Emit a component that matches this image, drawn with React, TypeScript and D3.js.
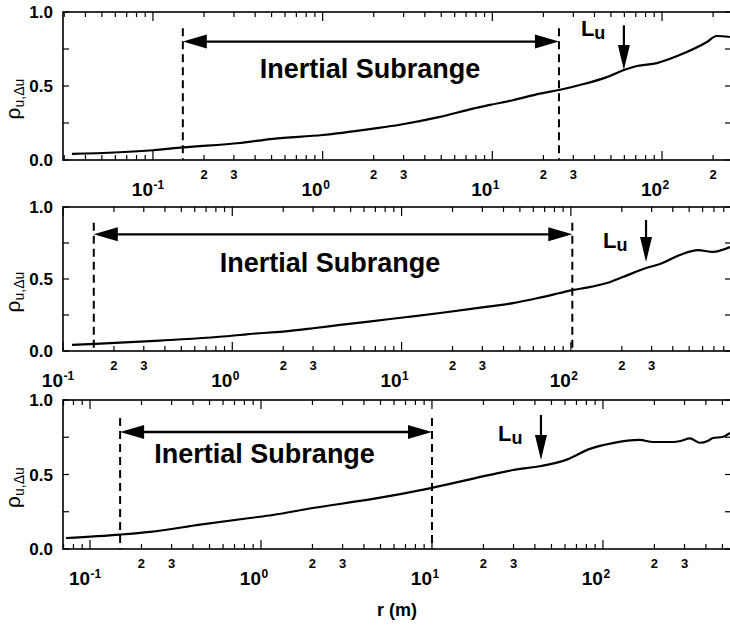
import React from 'react';
import * as d3 from 'd3';

// Correlation coefficient rho(u, Δu) versus separation r (m), three records.
const panel1R = [0.0333, 0.1, 0.15, 0.326, 0.509, 1.0, 1.98, 2.85, 4.91, 7.69, 9.7, 13.2, 19.1, 24.7, 32.8, 47.3, 59.6, 71.1, 93.3, 127, 184, 210, 251];
const panel1Rho = [0.041, 0.066, 0.085, 0.115, 0.143, 0.169, 0.212, 0.238, 0.291, 0.347, 0.372, 0.404, 0.448, 0.473, 0.507, 0.56, 0.608, 0.635, 0.655, 0.709, 0.797, 0.838, 0.831];

const panel2R = [0.113, 0.155, 0.374, 1.11, 1.27, 1.99, 3.0, 4.33, 6.78, 10.8, 16.9, 26.4, 33.3, 45.5, 64, 86.3, 103, 124, 163, 203, 278, 336, 441, 563, 691, 871];
const panel2Rho = [0.042, 0.049, 0.072, 0.111, 0.118, 0.135, 0.158, 0.181, 0.208, 0.236, 0.264, 0.294, 0.31, 0.333, 0.368, 0.403, 0.424, 0.44, 0.472, 0.514, 0.576, 0.604, 0.667, 0.701, 0.688, 0.722];

const panel3R = [0.0724, 0.15, 0.224, 0.44, 0.863, 1.17, 2.01, 4.52, 9.86, 21.8, 29.8, 43.4, 61.5, 83.9, 114, 164, 196, 256, 285, 323, 369, 410, 440, 500, 553];
const panel3Rho = [0.074, 0.097, 0.115, 0.163, 0.208, 0.228, 0.275, 0.336, 0.409, 0.497, 0.53, 0.557, 0.6, 0.672, 0.711, 0.732, 0.718, 0.718, 0.725, 0.742, 0.713, 0.725, 0.745, 0.752, 0.779];

// Axis extents (r in metres) for each record.
const rMinimum = [0.0295, 0.1, 0.0695];
const rMaximum = [255, 883, 561];

// Inertial subrange bounds and integral length scale L_u (m).
const subrangeStart = [0.15, 0.152, 0.15];
const subrangeEnd = [24.7, 102, 10];
const lengthScaleLu = [59.6, 278, 43.4];

const yTickValues = [0, 0.25, 0.5, 0.75, 1];
const yLabelValues = [0, 0.5, 1];
const yLabelText = ['0.0', '0.5', '1.0'];
const minorLabelMultipliers = [2, 3];
const subrangeLabel = 'Inertial Subrange';
const xAxisTitle = 'r (m)';

const series = [
  { r: panel1R, rho: panel1Rho },
  { r: panel2R, rho: panel2Rho },
  { r: panel3R, rho: panel3Rho },
];

// Layout of the three stacked frames.
const W = 730;
const H = 625;
const LEFT = 63;
const RIGHT = 731;
const frameTop = [12, 207, 400];
const frameBottom = [160, 351, 549];

// Annotation anchors in data units.
const arrowLevel = [0.8, 0.81, 0.785];
const dashTop = [0.89, 0.89, 0.88];
const labelLevel = [0.554, 0.549, 0.577];
const labelCenterR = [1.9, 3.78, 1.05];
const luArrowTop = [0.91, 0.91, 0.9];
const luArrowTip = [0.608, 0.618, 0.597];
const luLabelLevel = [0.84, 0.715, 0.725];

const FONT = '"Liberation Sans", Arial, Helvetica, sans-serif';

function Panel({ i }: { i: number }) {
  const top = frameTop[i];
  const bottom = frameBottom[i];
  const x = d3.scaleLog().domain([rMinimum[i], rMaximum[i]]).range([LEFT, RIGHT]);
  const y = d3.scaleLinear().domain([0, 1]).range([bottom, top]);
  const data = series[i].r.map((r, k) => [r, series[i].rho[k]] as [number, number]);
  const line = d3
    .line<[number, number]>()
    .x((d) => x(d[0]))
    .y((d) => y(d[1]))
    .curve(d3.curveMonotoneX);

  const [lo, hi] = x.domain();
  const e0 = Math.floor(Math.log10(lo));
  const e1 = Math.ceil(Math.log10(hi));
  const ticks: { v: number; major: boolean }[] = [];
  const decades: number[] = [];
  const minorLabels: { v: number; k: number }[] = [];
  for (let e = e0; e <= e1; e++) {
    for (let k = 1; k <= 9; k++) {
      const v = k * Math.pow(10, e);
      if (v < lo * 0.999 || v > hi) continue;
      ticks.push({ v, major: k === 1 });
      if (k === 1) decades.push(e);
      // 2 and 3 are labelled only after a labelled decade
      if (minorLabelMultipliers.includes(k) && v / k >= lo * 0.999 && x(v) < W - 4) minorLabels.push({ v, k });
    }
  }

  const xs = x(subrangeStart[i]);
  const xe = x(subrangeEnd[i]);
  const ya = y(arrowLevel[i]);
  const head = 24;
  const hh = 7;
  const xl = x(lengthScaleLu[i]);
  const yTip = y(luArrowTip[i]);
  const clipId = `clip-${i}`;

  return (
    <g>
      <defs>
        <clipPath id={clipId}>
          <rect x={LEFT} y={top} width={RIGHT - LEFT} height={bottom - top} />
        </clipPath>
      </defs>
      {/* frame */}
      <rect x={LEFT} y={top} width={RIGHT - LEFT} height={bottom - top} fill="none" stroke="#000" strokeWidth={1.6} />
      {/* x ticks on bottom and top */}
      {ticks.map((t, k) => {
        const tx = x(t.v);
        const len = t.major ? 9 : 5;
        return (
          <g key={k}>
            <line x1={tx} x2={tx} y1={bottom} y2={bottom - len} stroke="#000" strokeWidth={1.2} />
            <line x1={tx} x2={tx} y1={top} y2={top + len} stroke="#000" strokeWidth={1.2} />
          </g>
        );
      })}
      {/* y ticks on left and right */}
      {yTickValues.map((v, k) => (
        <g key={k}>
          <line x1={LEFT} x2={LEFT + 6} y1={y(v)} y2={y(v)} stroke="#000" strokeWidth={1.2} />
          <line x1={RIGHT} x2={RIGHT - 6} y1={y(v)} y2={y(v)} stroke="#000" strokeWidth={1.2} />
        </g>
      ))}
      {/* y tick labels */}
      {yLabelValues.map((v, k) => (
        <text key={k} x={53} y={y(v)} dy="0.36em" textAnchor="end" fontFamily={FONT} fontWeight="bold" fontSize={17}>
          {yLabelText[k]}
        </text>
      ))}
      {/* y axis title */}
      <text
        transform={`translate(20, ${(top + bottom) / 2 + 13}) rotate(-90)`}
        textAnchor="middle"
        fontFamily={FONT}
        fontSize={21}
      >
        <tspan>ρ</tspan>
        <tspan fontSize={14} dy={4}>u,Δu</tspan>
      </text>
      {/* minor tick labels */}
      {minorLabels.map((m, k) => (
        <text key={k} x={x(m.v)} y={bottom + 14} dy="0.36em" textAnchor="middle" fontFamily={FONT} fontWeight="bold" fontSize={13}>
          {m.k}
        </text>
      ))}
      {/* decade labels */}
      {decades.map((e) => {
        const dx = x(Math.pow(10, e));
        return (
          <g key={e}>
            <text x={dx} y={bottom + 36} textAnchor="end" fontFamily={FONT} fontWeight="bold" fontSize={19}>
              10
            </text>
            <text x={dx + 0.5} y={bottom + 29} textAnchor="start" fontFamily={FONT} fontWeight="bold" fontSize={12}>
              {e}
            </text>
          </g>
        );
      })}
      {/* subrange bounds */}
      <line x1={xs} x2={xs} y1={y(dashTop[i])} y2={bottom} stroke="#000" strokeWidth={2} strokeDasharray="8,5" />
      <line x1={xe} x2={xe} y1={y(dashTop[i])} y2={bottom} stroke="#000" strokeWidth={2} strokeDasharray="8,5" />
      {/* double arrow */}
      <line x1={xs + head - 2} x2={xe - head + 2} y1={ya} y2={ya} stroke="#000" strokeWidth={2.4} />
      <polygon points={`${xs},${ya} ${xs + head},${ya - hh} ${xs + head},${ya + hh}`} fill="#000" />
      <polygon points={`${xe},${ya} ${xe - head},${ya - hh} ${xe - head},${ya + hh}`} fill="#000" />
      <text
        x={x(labelCenterR[i])}
        y={y(labelLevel[i])}
        textAnchor="middle"
        fontFamily={FONT}
        fontWeight="bold"
        fontSize={27}
      >
        {subrangeLabel}
      </text>
      {/* curve */}
      <path d={line(data) || ''} fill="none" stroke="#000" strokeWidth={2.2} clipPath={`url(#${clipId})`} />
      {/* L_u marker */}
      <line x1={xl} x2={xl} y1={y(luArrowTop[i])} y2={yTip - 20} stroke="#000" strokeWidth={2.2} />
      <polygon points={`${xl},${yTip} ${xl - 6},${yTip - 25} ${xl + 6},${yTip - 25}`} fill="#000" />
      <text x={xl - 43} y={y(luLabelLevel[i])} fontFamily={FONT} fontWeight="bold" fontSize={22}>
        <tspan>L</tspan>
        <tspan fontSize={18} dy={3}>u</tspan>
      </text>
    </g>
  );
}

export default function App() {
  return (
    <svg
      width={W}
      height={H}
      viewBox={`0 0 ${W} ${H}`}
      style={{ position: 'absolute', left: 0, top: 0, background: '#fff' }}
    >
      <rect x={0} y={0} width={W} height={H} fill="#fff" />
      {[0, 1, 2].map((i) => (
        <Panel key={i} i={i} />
      ))}
      <text x={397} y={616} textAnchor="middle" fontFamily={FONT} fontWeight="bold" fontSize={18}>
        {xAxisTitle}
      </text>
    </svg>
  );
}
